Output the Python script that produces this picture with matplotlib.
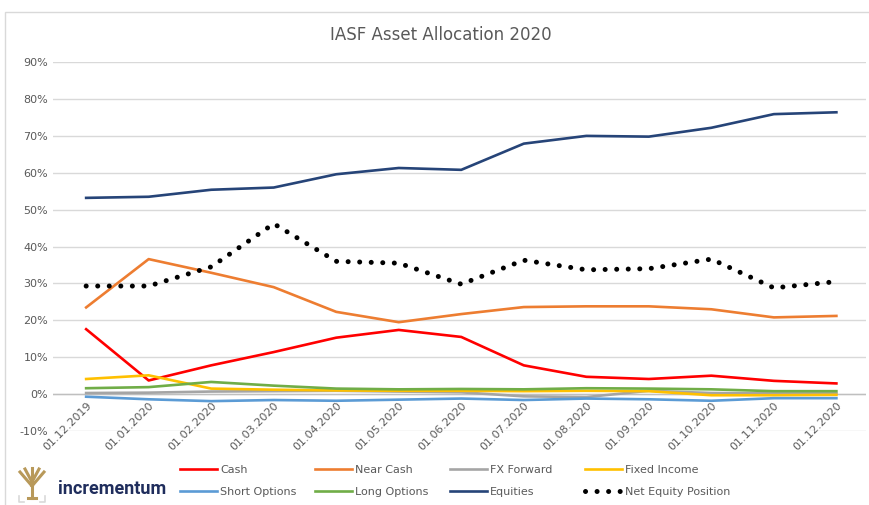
import matplotlib.pyplot as plt
from matplotlib.patches import Rectangle
from matplotlib.lines import Line2D

# data (percent)
dates = ["01.12.2019", "01.01.2020", "01.02.2020", "01.03.2020", "01.04.2020",
         "01.05.2020", "01.06.2020", "01.07.2020", "01.08.2020", "01.09.2020",
         "01.10.2020", "01.11.2020", "01.12.2020"]
cash = [17.6, 3.7, 7.8, 11.4, 15.3, 17.4, 15.5, 7.8, 4.7, 4.1, 5.0, 3.6, 2.9]
near_cash = [23.5, 36.6, 32.9, 29.0, 22.3, 19.5, 21.7, 23.6, 23.8, 23.8, 23.0, 20.8, 21.2]
fx_forward = [0.3, 0.4, 0.7, 0.8, 0.9, 0.7, 0.5, -0.6, -0.8, 0.9, 0.3, 0.2, 0.2]
fixed_income = [4.1, 5.1, 1.5, 1.2, 1.0, 0.9, 0.9, 0.8, 0.9, 0.8, -0.3, -0.3, -0.2]
short_options = [-0.7, -1.4, -1.9, -1.6, -1.8, -1.5, -1.2, -1.6, -1.2, -1.4, -1.8, -1.1, -1.1]
long_options = [1.6, 1.9, 3.3, 2.3, 1.5, 1.3, 1.4, 1.3, 1.6, 1.5, 1.3, 0.8, 0.8]
equities = [53.2, 53.5, 55.4, 56.0, 59.6, 61.3, 60.8, 67.9, 70.0, 69.8, 72.2, 75.9, 76.4]
net_equity = [29.3, 29.3, 34.5, 46.2, 36.0, 35.5, 29.8, 36.3, 33.7, 34.0, 36.6, 28.8, 30.5]
yticks = list(range(-10, 100, 10))

plt.rcParams['font.family'] = ['DejaVu Sans']
fig = plt.figure(figsize=(8.69, 5.05), dpi=100)
ax = fig.add_axes([0.061, 0.1465, 0.936, 0.7305])

x = list(range(len(dates)))
lw = 1.9
l_cash, = ax.plot(x, cash, color='#FF0000', lw=lw, label='Cash')
l_near, = ax.plot(x, near_cash, color='#ED7D31', lw=lw, label='Near Cash')
l_fx, = ax.plot(x, fx_forward, color='#A5A5A5', lw=lw, label='FX Forward')
l_fi, = ax.plot(x, fixed_income, color='#FFC000', lw=lw, label='Fixed Income')
l_so, = ax.plot(x, short_options, color='#5B9BD5', lw=lw, label='Short Options')
l_lo, = ax.plot(x, long_options, color='#70AD47', lw=lw, label='Long Options')
l_eq, = ax.plot(x, equities, color='#264478', lw=lw, label='Equities')
l_net, = ax.plot(x, net_equity, color='black', lw=3.6, linestyle=(0, (0.01, 2.3)),
                 dash_capstyle='round', label='Net Equity Position')

ax.set_xlim(-0.53, 12.48)
ax.set_ylim(-10, 90)
ax.set_yticks(yticks)
ax.set_yticklabels([f"{v}%" for v in yticks])
ax.set_xticks(x)
ax.set_xticklabels(dates, rotation=45, ha='right', va='top', rotation_mode='anchor')
ax.tick_params(axis='both', length=0, labelsize=8, labelcolor='#595959')
# category labels hang from the 0% axis line
ax.tick_params(axis='x', pad=-22)
ax.grid(axis='y', color='#D9D9D9', lw=1)
ax.set_axisbelow(True)
ax.axhline(0, color='#BFBFBF', lw=1, zorder=1)
for s in ax.spines.values():
    s.set_visible(False)

fig.text(0.507, 0.93, 'IASF Asset Allocation 2020', ha='center', va='center',
         fontsize=12, color='#595959')

# legend: four columns of equal width, placed one by one
legend_cols = [(l_cash, l_so), (l_near, l_lo), (l_fx, l_eq), (l_fi, l_net)]
col_x = [180, 315, 450, 585]
for pair, px in zip(legend_cols, col_x):
    lg = fig.legend(handles=list(pair), labels=[h.get_label() for h in pair],
                    loc='upper left', bbox_to_anchor=(px / 869, 1 - 465 / 505),
                    frameon=False, fontsize=8, labelcolor='#595959',
                    handlelength=3.3, handletextpad=0.3, labelspacing=1.05,
                    borderpad=0, borderaxespad=0)

# outer chart frame
fig.patches.append(Rectangle((0.006, -0.05), 1.1, 1.026, transform=fig.transFigure,
                             fill=False, edgecolor='#D9D9D9', lw=1))

# incrementum logo
fig.text(58 / 869, 1 - 489 / 505, 'incrementum', fontsize=13, fontweight='bold',
         family=['Roboto', 'DejaVu Sans'], color='#1F2D5C', va='center', ha='left')
gold = '#B8995A'
tree = [([32, 32], [498, 482]), ([32, 20], [486, 472]), ([32, 44], [486, 472]),
        ([32, 25], [482, 469]), ([32, 39], [482, 469]), ([32, 32], [482, 468]),
        ([28, 36], [498, 498])]
for tx, ty in tree:
    fig.lines.append(Line2D([v / 869 for v in tx], [1 - v / 505 for v in ty],
                            transform=fig.transFigure, color=gold, lw=2.2))
base = [([19, 19, 24], [496, 502, 502]), ([40, 45, 45], [502, 502, 496])]
for tx, ty in base:
    fig.lines.append(Line2D([v / 869 for v in tx], [1 - v / 505 for v in ty],
                            transform=fig.transFigure, color='#D9D9D9', lw=1.2))

fig.savefig('out.png', dpi=100)
